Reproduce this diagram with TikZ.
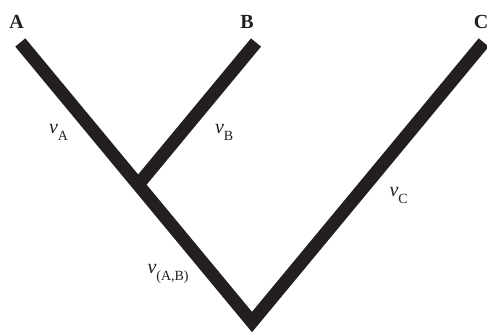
\documentclass[tikz,border=0pt]{standalone}
\usepackage{fontspec}
\setmainfont{Liberation Serif}
\definecolor{inkgray}{RGB}{35,31,32}
\newcommand{\brlen}[1]{{\itshape v}\raisebox{-0.36em}{\fontsize{14}{14}\selectfont #1}}

\begin{document}
\begin{tikzpicture}[x=1pt, y=-1pt, line width=13pt, line cap=butt, line join=miter,
      color=inkgray,
      every node/.append style={inner sep=0pt, font=\fontsize{20}{24}\selectfont},
      taxon/.style={anchor=base, font=\fontsize{20}{24}\selectfont\bfseries},
      branch/.style={anchor=base west}]
    \useasboundingbox (0,0) rectangle (487,332);
    \coordinate (tipA) at (20.3,42.5);
    \coordinate (tipB) at (256,42.5);
    \coordinate (tipC) at (483.7,42.5);
    \coordinate (AB) at (138.2,184.6);
    \coordinate (root) at (252,322);
    \draw (tipA) -- (root) -- (tipC);
    \draw (tipB) -- (AB);
    \node (A) [taxon] at (16.5,28) {A};
    \node (B) [taxon] at (247,28) {B};
    \node (C) [taxon] at (481,28) {C};
    \node (vA) [branch] at (42.5,133) {\brlen{A}};
    \node (vB) [branch] at (208.5,133) {\brlen{B}};
    \node (vC) [branch] at (383,196) {\brlen{C}};
    \node (vAB) [branch] at (141,273) {\brlen{(A,B)}};
\end{tikzpicture}
\end{document}
